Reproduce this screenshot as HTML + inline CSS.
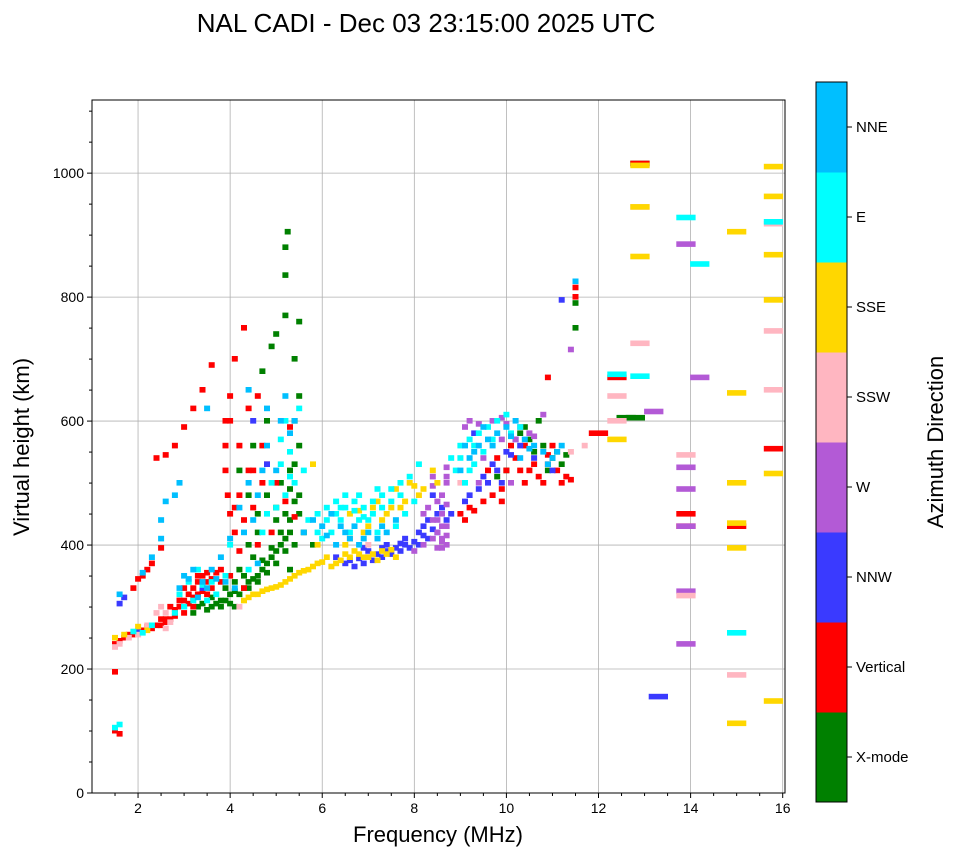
<!DOCTYPE html>
<html><head><meta charset="utf-8"><style>
html,body{margin:0;padding:0;background:#fff;}
svg{display:block;font-family:"Liberation Sans","DejaVu Sans",sans-serif;}
</style></head><body>
<svg id="chart" width="958" height="857" viewBox="0 0 958 857">
<text x="426" y="32" font-size="26" text-anchor="middle">NAL CADI - Dec 03 23:15:00 2025 UTC</text>
<g id="grid"></g>
<g id="marks"></g>
<rect x="92" y="100" width="693" height="693" fill="none" stroke="#000" stroke-width="1"/>
<g id="axes"></g>
<text x="438" y="842" font-size="22" text-anchor="middle">Frequency (MHz)</text>
<text transform="translate(29,447) rotate(-90)" font-size="22" text-anchor="middle">Virtual height (km)</text>
<g id="cbar"></g>
<text transform="translate(943,442) rotate(-90)" font-size="22" text-anchor="middle">Azimuth Direction</text>
</svg>
<script>
const xTicks=[2,4,6,8,10,12,14,16];
const yTicks=[0,200,400,600,800,1000];
const dirLabels=["X-mode","Vertical","NNW","W","SSW","SSE","E","NNE"];
const dirColors=["#008000","#ff0000","#3a3aff","#b35ad6","#ffb6c1","#ffd700","#00ffff","#00bfff"];
const xmodeEchoes=[[3.3,300],[3.5,295],[3.7,305],[3.8,300],[3.9,310],[4.0,320],[4.1,325],[4.3,330],[4.4,340],[4.5,345],[4.6,350],[4.7,360],[4.8,370],[4.9,380],[5.0,390],[5.1,400],[5.2,410],[5.3,420],[5.0,440],[5.2,450],[5.4,470],[5.1,500],[5.3,520],[5.5,560],[5.4,600],[5.5,640],[5.4,700],[5.5,760],[5.2,770],[5.0,740],[4.9,720],[4.7,680],[4.5,560],[4.8,600],[5.2,880],[5.25,905],[5.2,835],[4.2,520],[4.4,480],[4.6,450],[3.9,330],[3.6,315],[4.2,360],[4.5,380],[5.6,420],[5.8,400],[10.5,570],[10.8,560],[11.0,540],[11.2,530],[10.7,600],[10.3,580],[11.5,750],[11.5,790],[12.6,605],[12.8,605],[12.9,1015],[9.8,510],[10.0,520],[5.5,480],[5.3,360],[4.1,300],[3.2,290],
[3.4,305],[3.6,300],[3.8,310],[4.0,305],[4.2,320],[4.4,330],[4.6,340],[4.8,355],[5.0,370],[5.2,390],[5.4,400],[4.1,340],[4.3,350],[4.7,375],[4.9,395],[5.1,420],[5.3,440],[5.5,450],[5.4,530],[5.3,490],[5.0,460],[4.8,480],[4.6,420],[4.4,400],[10.6,550],[10.9,520],[11.1,550],[10.4,590],[11.3,545]];
const verticalEchoes=[[1.5,240],[1.6,245],[1.7,250],[1.8,255],[1.9,255],[2.0,260],[2.1,262],[2.3,265],[2.5,270],[2.6,275],[2.7,280],[2.8,285],[2.9,300],[3.0,310],[3.1,320],[3.2,330],[3.3,340],[3.4,350],[3.5,355],[3.0,330],[2.9,320],[3.2,300],[3.6,330],[3.8,340],[4.0,350],[4.1,420],[4.0,450],[3.95,480],[3.9,560],[4.0,600],[4.0,640],[4.1,700],[4.3,750],[3.6,690],[3.4,650],[3.2,620],[3.0,590],[2.8,560],[2.6,545],[2.4,540],[1.5,100],[1.6,95],[1.5,195],[1.9,330],[2.0,345],[2.1,350],[4.3,440],[4.5,460],[4.7,500],[4.2,560],[4.4,620],[4.6,640],[4.8,530],[5.0,500],[5.2,470],[5.4,445],[4.6,400],[4.9,420],[9.0,450],[9.2,460],[9.5,470],[9.7,480],[9.9,490],[10.0,520],[10.2,540],[10.5,520],[10.7,510],[10.9,530],[11.1,520],[11.3,510],[9.6,520],[9.8,540],[10.4,560],[10.9,670],[11.5,800],[11.5,815],[12.0,580],[12.4,670],[12.9,1015],[13.9,450],[13.9,430],[15.0,430],[15.8,555],[3.3,320],[3.5,340],[2.7,300],[2.5,280],[4.3,330],[3.8,360],[4.2,390],[4.4,520],[5.3,590],[10.1,560],[11.0,560],
[2.2,268],[2.4,270],[2.6,280],[2.8,295],[3.0,290],[3.1,305],[3.2,315],[3.4,325],[3.6,345],[3.7,355],[3.3,350],[2.9,310],[3.5,320],[2.3,370],[2.2,360],[2.5,395],[3.9,600],[3.9,520],[4.1,460],[4.5,520],[4.7,560],[4.2,480],[9.3,455],[9.9,470],[10.4,500],[10.6,530],[10.8,500],[11.2,500],[11.4,505],[10.3,520],[10.9,545],[9.1,440]];
const nnwEchoes=[[1.6,305],[1.7,315],[2.0,260],[3.0,300],[3.4,330],[6.5,370],[6.7,365],[6.9,370],[7.1,375],[7.3,380],[7.5,385],[7.7,390],[7.9,395],[8.1,400],[8.3,410],[8.5,420],[8.7,440],[7.0,390],[7.4,400],[7.8,410],[8.2,430],[8.6,460],[8.4,480],[9.4,490],[9.6,500],[9.8,520],[10.0,550],[10.2,570],[9.1,470],[9.3,580],[11.2,795],[10.6,540],[11.0,520],[8.8,450],[6.3,380],[4.5,600],[4.8,530],[13.3,155],
[6.6,375],[6.8,378],[7.0,380],[7.2,385],[7.4,390],[7.6,395],[7.8,400],[8.0,405],[8.2,415],[8.4,425],[6.9,395],[7.3,395],[7.7,402],[8.1,420],[8.3,440],[8.5,450],[9.5,510],[9.7,530],[10.1,545],[10.3,560],[9.2,480],[9.9,500]];
const wEchoes=[[8.0,390],[8.2,400],[8.4,410],[8.6,405],[8.7,415],[8.6,430],[8.4,440],[8.2,450],[8.5,470],[8.7,500],[8.7,525],[8.4,510],[9.2,600],[9.7,600],[9.9,605],[10.3,590],[10.5,580],[9.5,540],[9.9,570],[10.8,610],[11.4,715],[13.2,615],[13.9,525],[13.9,490],[14.2,670],[13.9,885],[13.9,325],[13.9,240],[13.9,430],[8.6,395],[8.5,420],[9.4,500],[10.1,500],
[8.5,395],[8.7,400],[8.6,410],[8.7,430],[8.5,440],[8.3,460],[8.6,480],[8.7,510],[8.6,450],[8.7,465],[8.4,495],[9.1,590],[9.4,595],[10.0,595],[10.6,575],[10.2,570]];
const sswEchoes=[[1.5,235],[1.6,240],[1.8,250],[2.0,255],[2.2,270],[2.4,290],[2.5,300],[2.6,290],[2.7,275],[2.6,265],[9.0,500],[11.4,550],[11.7,560],[12.4,600],[12.4,640],[12.9,725],[12.9,945],[13.9,318],[13.9,545],[15.0,190],[15.8,650],[15.8,745],[15.8,918],[7.0,400],[4.2,300]];
const sseEchoes=[[1.5,250],[1.7,255],[2.0,268],[2.2,262],[4.3,310],[4.5,320],[4.7,325],[4.9,330],[5.1,335],[5.3,345],[5.5,355],[5.7,360],[5.9,370],[6.2,365],[6.4,375],[6.6,380],[6.8,385],[7.0,380],[7.2,375],[7.4,385],[7.6,380],[6.5,400],[6.9,420],[7.3,440],[7.7,460],[8.1,480],[8.5,500],[6.6,450],[7.1,460],[7.6,490],[7.9,500],[8.4,520],[12.4,570],[12.9,865],[12.9,945],[12.9,1012],[15.0,500],[15.0,435],[15.0,395],[15.0,905],[15.0,645],[15.0,112],[15.8,148],[15.8,515],[15.8,795],[15.8,868],[15.8,962],[15.8,1010],[5.8,530],[5.9,400],[6.1,380],
[4.4,315],[4.6,320],[4.8,328],[5.0,332],[5.2,340],[5.4,350],[5.6,358],[5.8,365],[6.0,372],[6.3,370],[6.5,385],[6.7,390],[6.9,380],[7.1,385],[7.3,390],[7.5,392],[6.6,410],[7.0,430],[7.4,450],[7.8,470],[8.2,490],[6.8,455],[7.2,470],[7.5,460],[8.0,495]];
const eEchoes=[[1.5,105],[1.6,110],[1.9,260],[2.1,258],[2.3,270],[2.8,290],[3.0,300],[3.1,340],[3.3,360],[3.5,310],[3.7,320],[4.4,360],[4.7,420],[5.0,460],[5.2,480],[5.4,500],[5.6,520],[5.3,550],[5.1,570],[5.5,620],[5.2,600],[5.7,440],[5.9,450],[6.1,460],[6.3,470],[6.5,480],[6.7,470],[6.9,460],[7.1,470],[7.3,480],[7.5,490],[7.7,500],[7.9,510],[8.1,530],[6.2,420],[6.4,440],[6.8,440],[7.2,420],[7.6,430],[8.0,470],[8.8,540],[9.0,560],[9.2,570],[9.4,580],[9.6,590],[9.8,600],[10.0,610],[10.3,590],[9.1,500],[9.3,530],[12.4,675],[12.9,672],[13.9,928],[14.2,853],[15.0,258],[15.8,921],[6.0,410],[6.6,420],[7.0,440],[7.8,450],[9.5,550],[4.0,400],[4.8,450],
[2.9,320],[3.2,310],[3.4,335],[3.6,340],[3.9,350],[5.9,420],[6.1,440],[6.3,450],[6.5,460],[6.7,455],[6.9,445],[7.1,450],[7.3,460],[7.5,470],[7.7,480],[6.4,460],[6.8,480],[7.2,490],[9.0,540],[9.3,560],[9.7,570],[10.1,580],[9.2,520],[8.9,520],[4.9,500],[5.1,530],[5.3,510]];
const nneEchoes=[[1.6,320],[2.1,355],[2.3,380],[2.5,410],[2.5,440],[2.6,470],[2.8,480],[2.9,500],[3.0,350],[3.2,360],[3.4,340],[3.6,360],[3.8,380],[4.0,410],[4.2,460],[4.4,500],[4.6,480],[4.8,560],[5.0,520],[5.2,640],[5.4,600],[5.6,420],[5.8,440],[6.0,430],[6.2,450],[6.4,430],[6.6,410],[6.8,400],[7.0,420],[7.2,410],[7.4,420],[7.6,440],[9.0,520],[9.2,540],[9.4,560],[9.6,570],[9.8,580],[10.0,590],[10.2,600],[10.4,570],[10.6,560],[10.8,550],[11.0,540],[11.2,560],[9.5,590],[11.5,825],[3.5,620],[4.4,650],[4.8,620],[4.1,330],[4.6,370],[3.9,340],
[2.9,330],[3.1,345],[3.3,315],[3.5,330],[3.7,345],[4.3,420],[4.5,440],[4.7,520],[5.1,600],[5.3,580],[6.1,415],[6.3,400],[6.5,420],[6.7,430],[6.9,410],[7.3,430],[9.1,560],[9.3,550],[9.7,560],[10.1,575],[10.5,555],[10.9,530],[11.1,550],[10.3,540]];
const allSeries=[xmodeEchoes,verticalEchoes,nnwEchoes,wEchoes,sswEchoes,sseEchoes,eEchoes,nneEchoes];

const NS="http://www.w3.org/2000/svg";
const X0=92,X1=785,Y0=793,Y1=100,FMIN=1,FMAX=16.05,HMIN=0,HMAX=1118;
function fx(f){return X0+(f-FMIN)/(FMAX-FMIN)*(X1-X0);}
function hy(h){return Y0-(h-HMIN)/(HMAX-HMIN)*(Y0-Y1);}
function binWidth(f){return f<12?0.13:0.42;}
function mk(t,a,p){const e=document.createElementNS(NS,t);for(const k in a)e.setAttribute(k,a[k]);p.appendChild(e);return e;}
const grid=document.getElementById('grid'),axes=document.getElementById('axes'),marks=document.getElementById('marks'),cbar=document.getElementById('cbar');
xTicks.forEach(v=>{const x=fx(v);
 const g=mk('line',{x1:x,x2:x,y1:Y1,y2:Y0,stroke:'#b0b0b0','stroke-width':0.8},grid);
 
 
 mk('line',{x1:x,x2:x,y1:Y0,y2:Y0+5,stroke:'#000'},axes);
 const t=mk('text',{x:x,y:Y0+20,'font-size':14,'text-anchor':'middle'},axes);t.textContent=v;
 
 });
for(let v=1.5;v<16;v+=0.5){if(v%2===0)continue;const x=fx(v);mk('line',{x1:x,x2:x,y1:Y0,y2:Y0+3,stroke:'#000'},axes);}
yTicks.forEach(v=>{const y=hy(v);
 const g=mk('line',{x1:X0,x2:X1,y1:y,y2:y,stroke:'#b0b0b0','stroke-width':0.8},grid);
 
 
 mk('line',{x1:X0-5,x2:X0,y1:y,y2:y,stroke:'#000'},axes);
 const t=mk('text',{x:X0-8,y:y+5,'font-size':14,'text-anchor':'end'},axes);t.textContent=v;
 
 });
for(let v=50;v<1118;v+=50){if(v%200===0)continue;const y=hy(v);mk('line',{x1:X0-3,x2:X0,y1:y,y2:y,stroke:'#000'},axes);}
allSeries.forEach((s,ci)=>{s.forEach(p=>{
 const bw=binWidth(p[0]);
 const x=fx(p[0]-bw/2),w=fx(p[0]+bw/2)-x,y=hy(p[1]+5),h=hy(p[1]-4)-y;
 const r=mk('rect',{x:x.toFixed(1),y:y.toFixed(1),width:w.toFixed(1),height:h.toFixed(1),fill:dirColors[ci]},marks);
 
 });});
const CX=816,CW=31,CT=82,CB=802,bh=(CB-CT)/8;
dirLabels.forEach((l,i)=>{const y=CB-(i+1)*bh;
 const r=mk('rect',{x:CX,y:y,width:CW,height:bh+0.5,fill:dirColors[i]},cbar);
 
 
 mk('line',{x1:CX+CW,x2:CX+CW+5,y1:y+bh/2,y2:y+bh/2,stroke:'#000'},cbar);
 const t=mk('text',{x:CX+CW+9,y:y+bh/2+5,'font-size':15},cbar);t.textContent=l;
 
 });
mk('rect',{x:CX,y:CT,width:CW,height:CB-CT,fill:'none',stroke:'#000'},cbar);
</script>
</body></html>
